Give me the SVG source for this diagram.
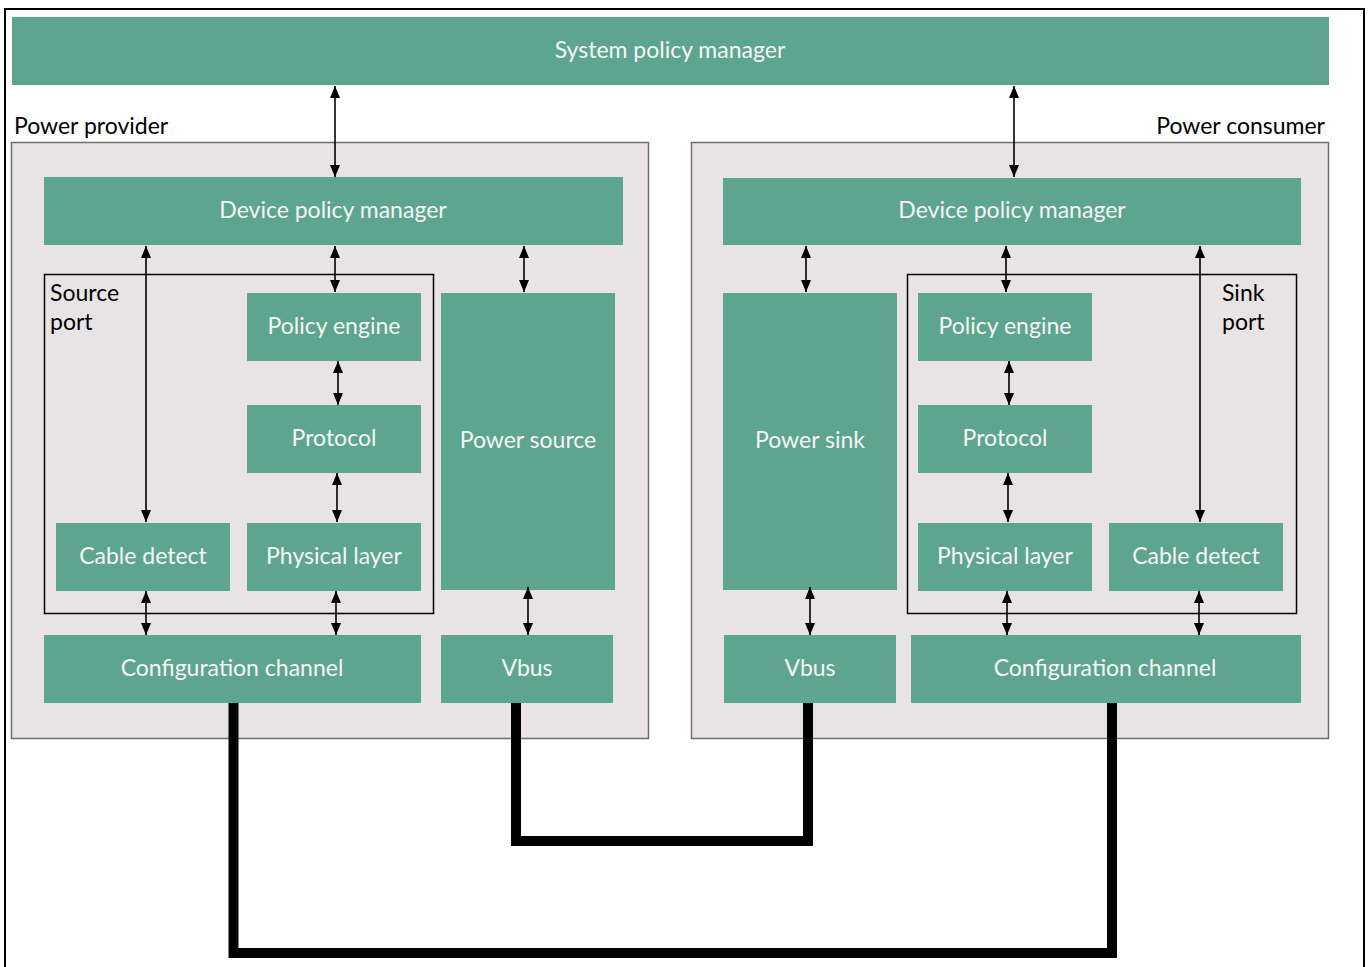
<svg xmlns="http://www.w3.org/2000/svg" width="1371" height="967" viewBox="0 0 1371 967">
<defs>
<style>
.box{fill:#5ea590}
.grp{fill:#e8e4e5;stroke:#6e6e6e;stroke-width:1.5}
.port{fill:none;stroke:#000;stroke-width:1.5}
.wt{font-family:Lato,"Noto Sans",sans-serif;font-size:23px;fill:#f5f5f5;text-anchor:middle;dominant-baseline:central}
.bt{font-family:Lato,"Noto Sans",sans-serif;font-size:23px;fill:#000}
.ar{stroke:#000;stroke-width:1.6;fill:none;marker-start:url(#ah);marker-end:url(#ah)}
.cable{stroke:#000;stroke-width:10;fill:none;stroke-linejoin:miter}
</style>
<marker id="ah" viewBox="0 0 12 10" refX="12" refY="5" markerWidth="12" markerHeight="10" markerUnits="userSpaceOnUse" orient="auto-start-reverse">
<path d="M0,0 L12,5 L0,10 z" fill="#000"/>
</marker>
</defs>
<rect x="5" y="9" width="1359" height="970" fill="none" stroke="#000" stroke-width="2"/>
<g id="system-policy-manager"><rect class="box" x="12" y="17" width="1317" height="68"/><text class="wt" x="670" y="49">System policy manager</text></g>
<g id="power-provider"><rect class="grp" x="11.5" y="142.5" width="637" height="596"/><text class="bt" x="14" y="134">Power provider</text></g>
<g id="power-consumer"><rect class="grp" x="691.5" y="142.5" width="637" height="596"/><text class="bt" x="1325" y="134" text-anchor="end">Power consumer</text></g>
<g id="source-port"><rect class="port" x="44.5" y="274.5" width="389" height="339"/><text class="bt" x="50" y="301">Source</text><text class="bt" x="50" y="330">port</text></g>
<g id="sink-port"><rect class="port" x="907.5" y="274.5" width="389" height="339"/><text class="bt" x="1222" y="301">Sink</text><text class="bt" x="1222" y="330">port</text></g>
<g id="dpm-left"><rect class="box" x="44" y="177" width="579" height="68"/><text class="wt" x="333" y="209">Device policy manager</text></g>
<g id="dpm-right"><rect class="box" x="723" y="178" width="578" height="67"/><text class="wt" x="1012" y="209">Device policy manager</text></g>
<g id="policy-engine-left"><rect class="box" x="247" y="293" width="174" height="68"/><text class="wt" x="334" y="325">Policy engine</text></g>
<g id="protocol-left"><rect class="box" x="247" y="405" width="174" height="68"/><text class="wt" x="334" y="437">Protocol</text></g>
<g id="physical-layer-left"><rect class="box" x="247" y="523" width="174" height="68"/><text class="wt" x="334" y="555">Physical layer</text></g>
<g id="cable-detect-left"><rect class="box" x="56" y="523" width="174" height="68"/><text class="wt" x="143" y="555">Cable detect</text></g>
<g id="power-source"><rect class="box" x="441" y="293" width="174" height="297"/><text class="wt" x="528" y="439">Power source</text></g>
<g id="config-channel-left"><rect class="box" x="44" y="635" width="377" height="68"/><text class="wt" x="232" y="667">Configuration channel</text></g>
<g id="vbus-left"><rect class="box" x="441" y="635" width="172" height="68"/><text class="wt" x="527" y="667">Vbus</text></g>
<g id="power-sink"><rect class="box" x="723" y="293" width="174" height="297"/><text class="wt" x="810" y="439">Power sink</text></g>
<g id="policy-engine-right"><rect class="box" x="918" y="293" width="174" height="68"/><text class="wt" x="1005" y="325">Policy engine</text></g>
<g id="protocol-right"><rect class="box" x="918" y="405" width="174" height="68"/><text class="wt" x="1005" y="437">Protocol</text></g>
<g id="physical-layer-right"><rect class="box" x="918" y="523" width="174" height="68"/><text class="wt" x="1005" y="555">Physical layer</text></g>
<g id="cable-detect-right"><rect class="box" x="1109" y="523" width="174" height="68"/><text class="wt" x="1196" y="555">Cable detect</text></g>
<g id="vbus-right"><rect class="box" x="724" y="635" width="172" height="68"/><text class="wt" x="810" y="667">Vbus</text></g>
<g id="config-channel-right"><rect class="box" x="911" y="635" width="390" height="68"/><text class="wt" x="1105" y="667">Configuration channel</text></g>
<g id="connectors">
<path class="ar" d="M335,86 V177"/>
<path class="ar" d="M1014,86 V177"/>
<path class="ar" d="M146,246 V522"/>
<path class="ar" d="M335,246 V292"/>
<path class="ar" d="M524,246 V292"/>
<path class="ar" d="M338,361 V405"/>
<path class="ar" d="M337,473 V522"/>
<path class="ar" d="M146,591 V635"/>
<path class="ar" d="M336,591 V635"/>
<path class="ar" d="M528,587 V635"/>
<path class="ar" d="M806,246 V292"/>
<path class="ar" d="M1006,246 V292"/>
<path class="ar" d="M1200,246 V522"/>
<path class="ar" d="M1009,361 V405"/>
<path class="ar" d="M1008,473 V522"/>
<path class="ar" d="M1007,591 V635"/>
<path class="ar" d="M1199,591 V635"/>
<path class="ar" d="M810,587 V635"/>
<path class="cable" d="M516,703 V841 H808 V703"/>
<path class="cable" d="M233.5,703 V953 H1112 V703"/>
</g>
</svg>
